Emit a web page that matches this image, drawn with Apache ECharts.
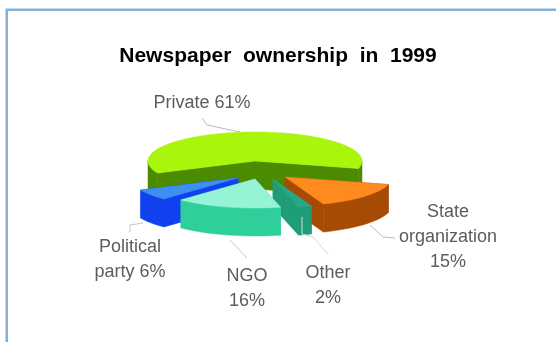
<!DOCTYPE html>
<html>
<head>
<meta charset="utf-8">
<style>html,body{margin:0;padding:0;background:#fff}#chart{width:556px;height:342px}</style>
<script src="https://cdn.jsdelivr.net/npm/echarts@6/dist/echarts.min.js"></script>
</head>
<body>
<div id="chart"></div>
<script>
// Newspaper ownership shares, clockwise from the right-hand edge of the large slice
const categories = ['State organization', 'Other', 'NGO', 'Political party', 'Private'];
const shares = [15, 2, 16, 6, 61];

// Label lines for each slice
const labelLines = [['State', 'organization', '15%'], ['Other', '2%'], ['NGO', '16%'], ['Political', 'party 6%'], ['Private 61%']];

// Slice appearance
const topColors = ['#ff8a1e', '#27a884', '#97f3d6', '#3f8ff2', '#a9f50c'];
const wallColors = ['#a64b05', '#1f9c78', '#2fcf9c', '#0f42ee', '#4b8b00'];

// Centre of each slice's top face once pulled out of the pie
const centres = [[285, 177], [273, 179], [255, 179], [238, 178], [255, 161]];

// Label centres and leader routes
const labelCentres = [[448, 237], [328, 286], [247, 289], [130, 260], [202, 103]];
const leaderRoutes = [
  [[370, 225], [383, 237], [395, 238]],
  [[302, 217], [302, 234], [313, 237], [328, 254]],
  [[230, 240], [247, 258]],
  [[143, 223], [130, 225], [130, 232]],
  [[240, 132], [207, 125], [202, 118]]
];
const leaderColors = ['#b9b9c0', '#d4dcd8', '#c4c4cc', '#c4c4cc', '#b9b9c4'];
const drawOrder = [4, 3, 0, 1, 2];

const radiusX = 107, radiusY = 29, depth = 28, startDegrees = 15;
const rad = d => d * Math.PI / 180;

// Cumulative start and end angles of every slice
const spans = [];
shares.reduce((from, value) => {
  const to = from + value / shares.reduce((a, b) => a + b, 0) * 360;
  spans.push([from, to]);
  return to;
}, startDegrees);

function rimPoint(c, deg) {
  return [c[0] + radiusX * Math.cos(rad(deg)), c[1] + radiusY * Math.sin(rad(deg))];
}
function arcPoints(c, a, b) {
  const pts = [], n = Math.max(2, Math.ceil((b - a) / 3));
  for (let i = 0; i <= n; i++) pts.push(rimPoint(c, a + (b - a) * i / n));
  return pts;
}
const drop = (pts) => pts.map(p => [p[0], p[1] + depth]).reverse();
const poly = (points, fill) => ({
  type: 'polygon', shape: { points },
  style: { fill, stroke: fill, lineWidth: 0.5 }
});

function renderSlice(params, api) {
  const i = api.value(0), c = centres[i], [a, b] = spans[i];
  const wall = wallColors[i], children = [];
  const ps = rimPoint(c, a), pe = rimPoint(c, b);
  // cut faces, then the visible stretch of the outer wall, then the top
  children.push(poly([c, ps, [ps[0], ps[1] + depth], [c[0], c[1] + depth]], wall));
  children.push(poly([c, pe, [pe[0], pe[1] + depth], [c[0], c[1] + depth]], wall));
  // the front of the rim lies between 0 and 180 degrees, modulo a full turn
  for (const [lo, hi] of [[0, 180], [360, 540]]) {
    const f = Math.max(a, lo), t = Math.min(b, hi);
    if (t > f) {
      const rim = arcPoints(c, f, t);
      children.push(poly(rim.concat(drop(rim)), wall));
    }
  }
  children.push(poly([c].concat(arcPoints(c, a, b)), topColors[i]));
  return { type: 'group', children };
}

function renderLabel(params, api) {
  const i = api.value(0), [x, y] = labelCentres[i];
  return {
    type: 'group',
    children: [
      { type: 'polyline', shape: { points: leaderRoutes[i] },
        style: { fill: 'none', stroke: leaderColors[i], lineWidth: 1 } },
      { type: 'text', x, y,
        style: {
          text: labelLines[i].join('\n'), fill: '#5c5c5c',
          font: '18px "Liberation Sans", Arial, sans-serif',
          lineHeight: 25, align: 'center', verticalAlign: 'middle'
        } }
    ]
  };
}

const sliceRows = drawOrder.map(i => [i, categories[i], shares[i]]);

const chart = echarts.init(document.getElementById('chart'), null, { renderer: 'canvas' });
chart.setOption({
  animation: false,
  backgroundColor: '#fff',
  title: {
    text: 'Newspaper  ownership  in  1999',
    left: 'center', top: 41,
    textStyle: { fontFamily: '"Liberation Sans", Arial, sans-serif', fontWeight: 'bold', fontSize: 21, color: '#000' }
  },
  graphic: [{
    type: 'rect', silent: true, z: -1,
    shape: { x: 6.75, y: 9.75, width: 600, height: 400 },
    style: { fill: '#fff', stroke: '#85b0d8', lineWidth: 2.5 }
  }],
  xAxis: { show: false, min: 0, max: 556 },
  yAxis: { show: false, min: 0, max: 342 },
  grid: { left: 0, right: 0, top: 0, bottom: 0 },
  series: [
    { type: 'custom', coordinateSystem: 'none', renderItem: renderSlice, data: sliceRows, encode: { value: 2 }, silent: true, z: 2 },
    { type: 'custom', coordinateSystem: 'none', renderItem: renderLabel, data: sliceRows, silent: true, z: 3 }
  ]
});
</script>
</body>
</html>
